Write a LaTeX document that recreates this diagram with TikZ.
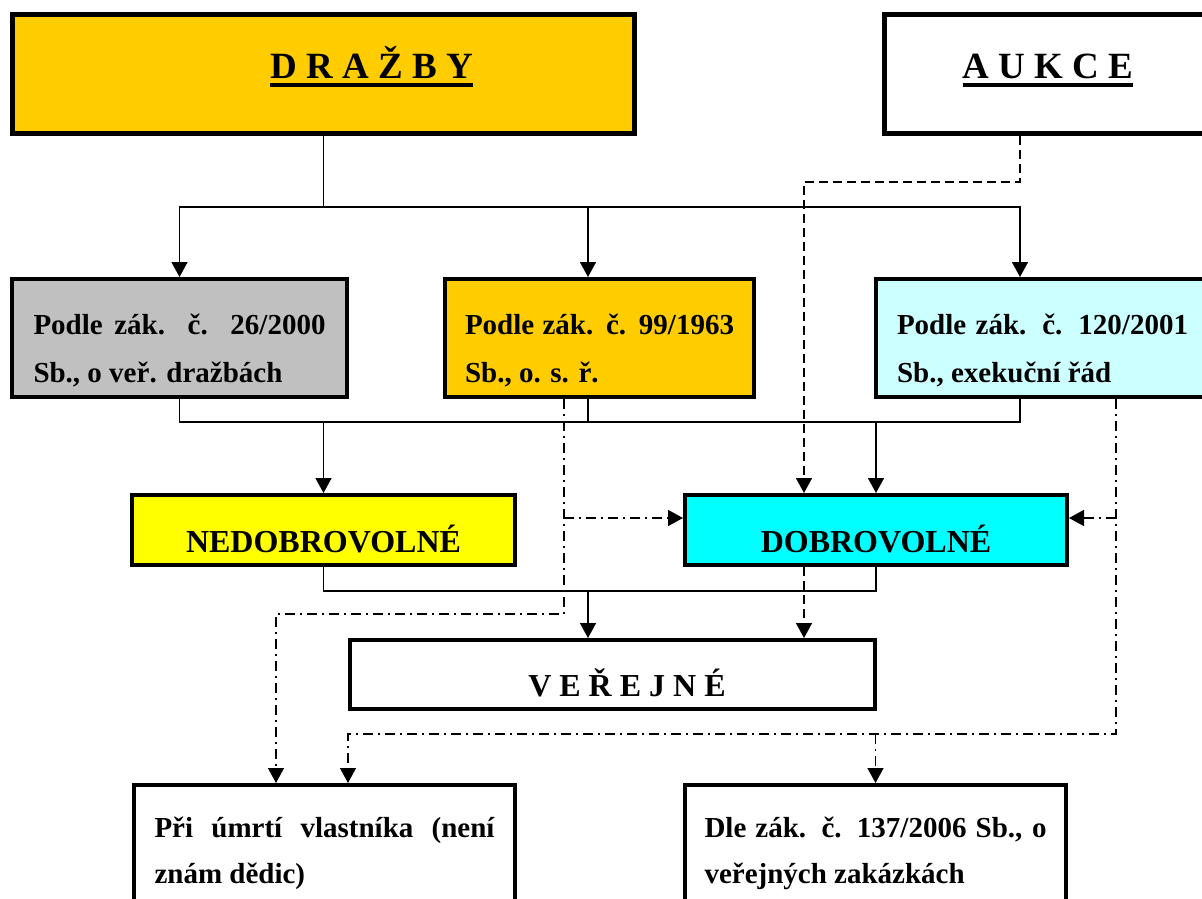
\documentclass[tikz,border=0pt]{standalone}
\usepackage{fontspec}
\setmainfont{Liberation Serif}
\usetikzlibrary{positioning, arrows.meta, calc}

\definecolor{gold}{HTML}{FFCC00}
\definecolor{silver}{HTML}{C0C0C0}
\definecolor{paleaqua}{HTML}{CCFFFF}
\definecolor{brightyellow}{HTML}{FFFF00}
\definecolor{brightaqua}{HTML}{00FFFF}

\newcommand{\fullline}[1]{\makebox[\hsize][s]{\spaceskip=0pt\xspaceskip=0pt #1}}
\newcommand{\titleul}[1]{\vtop{\hbox{#1}\kern5pt\hrule height 4pt}}

\begin{document}
\begin{tikzpicture}[
        x=1pt, y=-1pt,
        on grid,
        >={Triangle[length=15pt, width=16pt]},
        headbox/.style={draw, line width=5pt, inner sep=0pt, minimum height=119pt, text height=36pt, text depth=28pt, font=\fontsize{37pt}{44pt}\selectfont\bfseries},
        lawbox/.style={draw, line width=4pt, inner sep=0pt, minimum height=118pt, align=flush left, font=\fontsize{29pt}{48pt}\selectfont\bfseries},
        kindbox/.style={draw, line width=4pt, inner sep=0pt, minimum height=70pt, text height=50pt, text depth=6pt, font=\fontsize{32pt}{38pt}\selectfont\bfseries},
        casebox/.style={lawbox, minimum height=146pt, font=\fontsize{29pt}{46pt}\selectfont\bfseries},
        feed/.style={line width=1.6pt},
        feedarrow/.style={feed, ->},
        auctionarrow/.style={feedarrow, dash pattern=on 9pt off 5pt},
        otherarrow/.style={feedarrow, dash pattern=on 10pt off 5pt on 2pt off 5pt}
      ]
        \useasboundingbox (0,0) rectangle (1202,899);
        \clip (0,0) rectangle (1202,899);

        % Top row
        \node[headbox, fill=gold, minimum width=622pt] (drazby) at (323.5,74) {\hspace*{96pt}\titleul{D R A Ž B Y}};
        \node[headbox, minimum width=327pt] (aukce) at (1048,74) {\titleul{A U K C E}};

        % Laws
        \node[lawbox, fill=silver, minimum width=335pt, text width=292pt] (zdrazby) at (179.5,338)
            {\rule{0pt}{50pt}\fullline{Podle zák. č. 26/2000}\\Sb., o veř. dražbách\rule[-10pt]{0pt}{10pt}};
        \node[lawbox, fill=gold, minimum width=309pt, text width=269pt, right=420pt of zdrazby] (osr)
            {\rule{0pt}{50pt}\fullline{Podle zák. č. 99/1963}\\Sb., o. s. ř.\rule[-10pt]{0pt}{10pt}};
        \node[lawbox, fill=paleaqua, minimum width=333pt, text width=291pt, right=443pt of osr] (exek)
            {\rule{0pt}{50pt}\fullline{Podle zák. č. 120/2001}\\Sb., exekuční řád\rule[-10pt]{0pt}{10pt}};

        % Kinds
        \node[kindbox, fill=brightyellow, minimum width=383pt] (nedob) at (323.5,530) {NEDOBROVOLNÉ};
        \node[kindbox, fill=brightaqua, minimum width=382pt, right=552.5pt of nedob] (dobro) {DOBROVOLNÉ};
        \node[kindbox, minimum width=525pt, minimum height=69pt, text height=49pt] (verejne) at (612.5,674.5) {\hspace*{29pt}V E Ř E J N É};

        % Special cases
        \node[casebox, minimum width=381pt, text width=340pt] (heir) at (324.5,858)
            {\rule{0pt}{28pt}\fullline{Při úmrtí vlastníka (není}\\znám dědic)\rule[-24pt]{0pt}{24pt}};
        \node[casebox, minimum width=381pt, text width=342pt, right=551pt of heir] (tender)
            {\rule{0pt}{28pt}\fullline{Dle zák. č. 137/2006 Sb., o}\\veřejných zakázkách\rule[-24pt]{0pt}{24pt}};

        % DRAŽBY splits into the laws
        \coordinate (split) at ($(drazby.south)+(0,71)$);
        \draw[feed] (drazby.south) -- (split);
        \draw[feedarrow] (split) -| (zdrazby.north);
        \draw[feedarrow] (split) -| ($(osr.north)+(-11.5,0)$);
        \draw[feedarrow] (split) -| ($(exek.north)+(-22.5,0)$);

        % Laws join into the kinds
        \draw[feed] (zdrazby.south) -- ++(0,23) coordinate (busA) -| ($(exek.south)+(-22.5,0)$);
        \draw[feed] ($(osr.south)+(-11.5,0)$) coordinate (osrOut) -- (osrOut |- busA);
        \draw[feedarrow] (busA -| nedob.north) -- (nedob.north);
        \draw[feedarrow] (busA -| dobro.north) -- (dobro.north);

        % Kinds join into VEŘEJNÉ
        \draw[feed] (nedob.south) -- ++(0,24) coordinate (busB) -| (dobro.south);
        \draw[feedarrow] (busB -| osrOut) -- (verejne.north -| osrOut);

        % AUKCE
        \draw[auctionarrow] ($(aukce.south)+(-28,0)$) -- ++(0,46) -| ($(dobro.north)+(-72,0)$);
        \draw[auctionarrow] ($(dobro.south)+(-72,0)$) coordinate (dobOut) -- (dobOut |- verejne.north);

        % side routes to the special cases
        \coordinate (dobL) at ($(dobro.west)+(0,-12)$);
        \coordinate (dobR) at ($(dobro.east)+(0,-12)$);
        \draw[otherarrow] ($(osr.south)+(-35.5,0)$) coordinate (osrSide) -- ++(0,215) -| ($(heir.north)+(-48.5,0)$);
        \draw[otherarrow] (osrSide |- dobL) -- (dobL);
        \draw[otherarrow] ($(exek.south)+(73.5,0)$) coordinate (exekSide) -- ++(0,335) coordinate (busC) -| ($(heir.north)+(23.5,0)$);
        \draw[otherarrow] (exekSide |- dobR) -- (dobR);
        \draw[otherarrow] (busC -| tender.north) -- (tender.north);
    \end{tikzpicture}
\end{document}
